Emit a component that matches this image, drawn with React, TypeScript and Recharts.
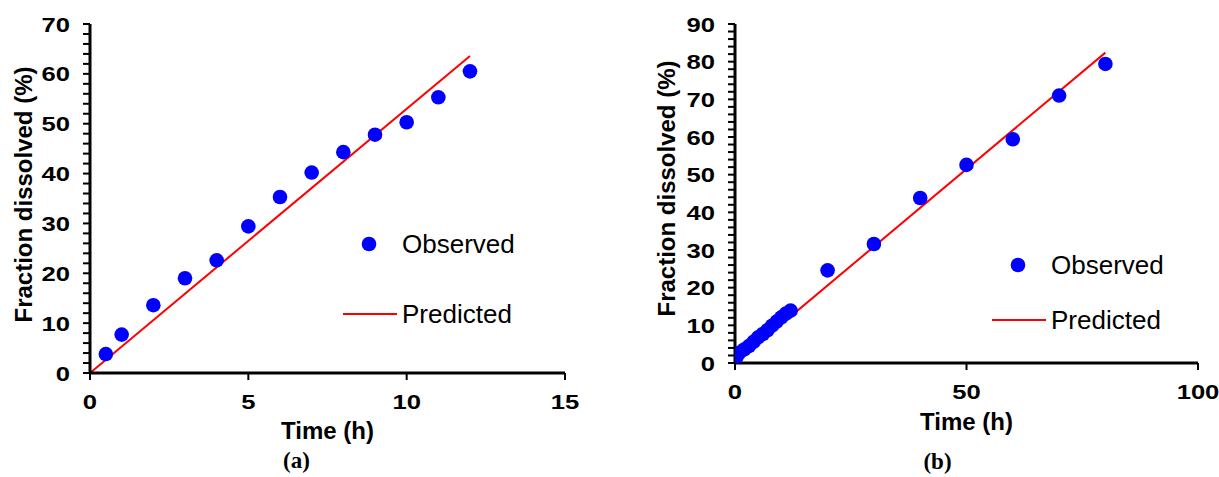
import React from 'react';
import { ComposedChart, Scatter, Line, XAxis, YAxis, Legend } from 'recharts';

// ---- Chart (a) data ----
const leftTime = [0.5, 1, 2, 3, 4, 5, 6, 7, 8, 9, 10, 11, 12];
const leftObserved = [3.8, 7.7, 13.6, 19.0, 22.6, 29.4, 35.3, 40.2, 44.3, 47.8, 50.3, 55.3, 60.5];
const leftPredTime = [0, 12];
const leftPredicted = [0, 63.6];
const leftXTicks = [0, 5, 10, 15];
const leftYTicks = [0, 2, 4, 6, 8, 10, 12, 14, 16, 18, 20, 22, 24, 26, 28, 30, 32, 34, 36, 38, 40, 42, 44, 46, 48, 50, 52, 54, 56, 58, 60, 62, 64, 66, 68, 70];

// ---- Chart (b) data ----
const rightTime = [0.25, 0.5, 1, 2, 3, 4, 5, 6, 7, 8, 9, 10, 11, 12, 20, 30, 40, 50, 60, 70, 80];
const rightObserved = [1.5, 2.0, 2.8, 3.6, 4.5, 5.6, 6.8, 7.7, 8.7, 9.9, 11.0, 12.1, 13.1, 13.9, 24.6, 31.6, 43.8, 52.6, 59.4, 71.0, 79.4];
const rightPredTime = [0, 80];
const rightPredicted = [0, 82.4];
const rightXTicks = [0, 50, 100];
const rightYTicks = [0, 2, 4, 6, 8, 10, 12, 14, 16, 18, 20, 22, 24, 26, 28, 30, 32, 34, 36, 38, 40, 42, 44, 46, 48, 50, 52, 54, 56, 58, 60, 62, 64, 66, 68, 70, 72, 74, 76, 78, 80, 82, 84, 86, 88, 90];

const seriesNames = ['Observed', 'Predicted'];
const yTitle = 'Fraction dissolved (%)';
const xTitle = 'Time (h)';

const BLUE = '#0000FF';
const RED = '#FF0000';
const SANS = 'Arial, "Liberation Sans", sans-serif';
const SERIF = '"Liberation Serif", "Times New Roman", serif';

const toPts = (xs: number[], ys: number[]) => xs.map((x, i) => ({ x, y: ys[i] }));

const YTick = (props: any) => {
  const { x, y, payload } = props;
  const v = payload.value;
  if (v % 10 !== 0) return null;
  return (
    <text
      transform={`translate(${x},${y}) scale(1.22,1)`}
      textAnchor="end"
      dy="0.36em"
      fontFamily={SANS}
      fontWeight="bold"
      fontSize={21}
      fill="#000"
    >
      {v}
    </text>
  );
};

const XTick = (props: any) => {
  const { x, y, payload } = props;
  return (
    <text
      transform={`translate(${x},${y}) scale(1.22,1)`}
      textAnchor="middle"
      dy="0.71em"
      fontFamily={SANS}
      fontWeight="bold"
      fontSize={21}
      fill="#000"
    >
      {payload.value}
    </text>
  );
};

const Dot = (props: any) => <circle cx={props.cx} cy={props.cy} r={7.3} fill={BLUE} />;

const makeLegend = (gap: number) => () => (
  <svg width={200} height={gap + 50} style={{ display: 'block' }}>
    <circle cx={29} cy={24} r={7.3} fill={BLUE} />
    <text x={62} y={24} dy="0.35em" fontFamily={SANS} fontSize={26} fill="#000">
      {seriesNames[0]}
    </text>
    <line x1={3} y1={24 + gap} x2={57} y2={24 + gap} stroke={RED} strokeWidth={2} />
    <text x={62} y={24 + gap} dy="0.35em" fontFamily={SANS} fontSize={26} fill="#000">
      {seriesNames[1]}
    </text>
  </svg>
);

type PanelProps = {
  width: number;
  height: number;
  margin: { top: number; right: number; bottom: number; left: number };
  yAxisWidth: number;
  xAxisHeight: number;
  xDomain: [number, number];
  yDomain: [number, number];
  xTicks: number[];
  yTicks: number[];
  obs: { x: number; y: number }[];
  pred: { x: number; y: number }[];
  yTitleX: number;
  yTitleDy: number;
  xTitleDy: number;
  caption: string;
  captionDx: number;
  captionBaseline: number;
  legendLeft: number;
  legendTop: number;
  legendGap: number;
};

const Panel = (p: PanelProps) => {
  const axisStroke = { stroke: '#000', strokeWidth: 3 };
  const frameStroke = { stroke: '#000', strokeWidth: 2.5 };
  const tickStroke = { stroke: '#000', strokeWidth: 2 };
  return (
    <ComposedChart width={p.width} height={p.height} margin={p.margin} style={{ overflow: 'visible' }}>
      <XAxis
        dataKey="x"
        type="number"
        domain={p.xDomain}
        ticks={p.xTicks}
        interval={0}
        height={p.xAxisHeight}
        axisLine={axisStroke}
        tickLine={tickStroke}
        tickSize={7}
        tickMargin={14}
        tick={<XTick />}
        allowDataOverflow
        label={(lp: any) => {
          const vb = lp.viewBox;
          const cx = vb.x + vb.width / 2;
          return (
            <g>
              <text x={cx} y={vb.y + p.xTitleDy} dy="0.35em" textAnchor="middle" fontFamily={SANS} fontWeight="bold" fontSize={24} fill="#000">
                {xTitle}
              </text>
              <text x={cx + p.captionDx} y={vb.y + p.captionBaseline} textAnchor="middle" fontFamily={SERIF} fontWeight="bold" fontSize={23} fill="#000">
                {p.caption}
              </text>
            </g>
          );
        }}
      />
      <XAxis
        xAxisId="top"
        orientation="top"
        type="number"
        domain={p.xDomain}
        height={0}
        tick={false}
        tickLine={false}
        axisLine={frameStroke}
      />
      <YAxis
        type="number"
        domain={p.yDomain}
        ticks={p.yTicks}
        interval={0}
        width={p.yAxisWidth}
        axisLine={axisStroke}
        tickLine={tickStroke}
        tickSize={7}
        tickMargin={13}
        tick={<YTick />}
        allowDataOverflow
        label={(lp: any) => {
          const vb = lp.viewBox;
          const cy = vb.y + vb.height / 2 + p.yTitleDy;
          const x = vb.x + p.yTitleX;
          return (
            <text transform={`translate(${x},${cy}) rotate(-90)`} textAnchor="middle" fontFamily={SANS} fontWeight="bold" fontSize={24} fill="#000">
              {yTitle}
            </text>
          );
        }}
      />
      <YAxis
        yAxisId="right"
        orientation="right"
        type="number"
        domain={p.yDomain}
        width={0}
        tick={false}
        tickLine={false}
        axisLine={frameStroke}
      />
      <Legend
        layout="horizontal"
        verticalAlign="middle"
        align="center"
        content={makeLegend(p.legendGap)}
        wrapperStyle={{ position: 'absolute', left: p.legendLeft, top: p.legendTop, width: 200, height: p.legendGap + 50, margin: 0 }}
      />
      <Line
        data={p.pred}
        dataKey="y"
        name={seriesNames[1]}
        stroke={RED}
        strokeWidth={2}
        dot={false}
        activeDot={false}
        isAnimationActive={false}
        type="linear"
      />
      <Scatter
        data={p.obs}
        dataKey="y"
        name={seriesNames[0]}
        fill={BLUE}
        shape={Dot}
        isAnimationActive={false}
      />
    </ComposedChart>
  );
};

export default function App() {
  return (
    <div style={{ position: 'absolute', left: 0, top: 0, width: 1219, height: 477, background: '#fff' }}>
      <div style={{ position: 'absolute', left: 0, top: 0 }}>
        <Panel
          width={600}
          height={477}
          margin={{ top: 24, right: 35, bottom: 0, left: 0 }}
          yAxisWidth={90}
          xAxisHeight={104}
          xDomain={[0, 15]}
          yDomain={[0, 70]}
          xTicks={leftXTicks}
          yTicks={leftYTicks}
          obs={toPts(leftTime, leftObserved)}
          pred={toPts(leftPredTime, leftPredicted)}
          yTitleX={32}
          yTitleDy={-4}
          xTitleDy={58}
          caption="(a)"
          captionDx={-31}
          captionBaseline={95}
          legendLeft={340}
          legendTop={220}
          legendGap={70}
        />
      </div>
      <div style={{ position: 'absolute', left: 600, top: 0 }}>
        <Panel
          width={619}
          height={477}
          margin={{ top: 24, right: 21, bottom: 0, left: 0 }}
          yAxisWidth={135}
          xAxisHeight={114}
          xDomain={[0, 100]}
          yDomain={[0, 90]}
          xTicks={rightXTicks}
          yTicks={rightYTicks}
          obs={toPts(rightTime, rightObserved)}
          pred={toPts(rightPredTime, rightPredicted)}
          yTitleX={75}
          yTitleDy={-5}
          xTitleDy={59}
          caption="(b)"
          captionDx={-29}
          captionBaseline={106}
          legendLeft={389}
          legendTop={241}
          legendGap={55}
        />
      </div>
    </div>
  );
}
